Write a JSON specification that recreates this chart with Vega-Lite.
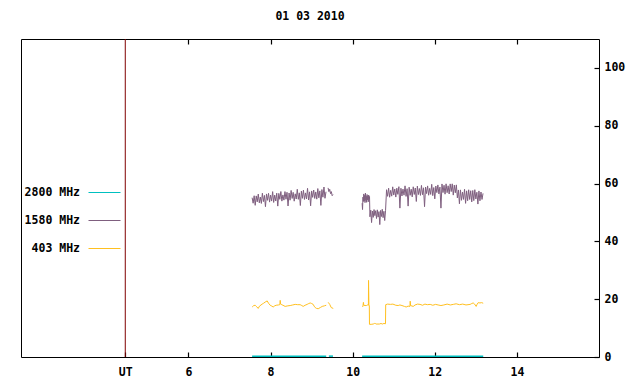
{
  "$schema": "https://vega.github.io/schema/vega-lite/v6.json",
  "autosize": "none",
  "padding": {"left": 21, "top": 39, "right": 41, "bottom": 27},
  "width": 578,
  "height": 318,
  "background": "white",
  "title": {"text": "01 03 2010", "font": "DejaVu Sans Mono", "fontSize": 11.5, "fontWeight": "bold", "color": "black", "offset": 16, "anchor": "middle", "frame": "group"},
  "config": {
    "view": {"stroke": "black", "strokeWidth": 1},
    "axis": {"domain": false, "grid": false, "labelColor": "black", "labelFont": "DejaVu Sans Mono", "labelFontSize": 11.5, "labelFontWeight": "bold", "title": null},
    "legend": {"orient": "none", "legendX": 67, "legendY": 137, "symbolType": "stroke", "symbolSize": 1024, "symbolStrokeWidth": 1, "labelAlign": "right", "labelOffset": -41, "labelFont": "DejaVu Sans Mono", "labelFontSize": 11.5, "labelFontWeight": "bold", "labelColor": "black", "labelLimit": 0, "rowPadding": 6, "padding": 0, "title": null}
  },
  "datasets": {
    "marker": [{"name": "UT"}],
    "s2800": [
      {"t": 7.55, "v": 0.3, "g": 1}, {"t": 9.355, "v": 0.3, "g": 1},
      {"t": 9.42, "v": 0.3, "g": 2}, {"t": 9.52, "v": 0.3, "g": 2},
      {"t": 10.23, "v": 0.3, "g": 3}, {"t": 13.18, "v": 0.3, "g": 3}
    ],
    "s1580": [
      {"t":7.55,"v":55.1,"g":1},{"t":7.575,"v":53.2,"g":1},{"t":7.6,"v":55.78,"g":1},{"t":7.625,"v":52.46,"g":1},{"t":7.65,"v":55.72,"g":1},
      {"t":7.675,"v":53.66,"g":1},{"t":7.7,"v":56.36,"g":1},{"t":7.725,"v":53.32,"g":1},{"t":7.75,"v":55.32,"g":1},{"t":7.775,"v":53.12,"g":1},
      {"t":7.8,"v":56.66,"g":1},{"t":7.825,"v":53.76,"g":1},{"t":7.85,"v":55.9,"g":1},{"t":7.875,"v":52.0,"g":1},{"t":7.9,"v":56.4,"g":1},
      {"t":7.925,"v":54.2,"g":1},{"t":7.95,"v":56.62,"g":1},{"t":7.975,"v":53.58,"g":1},{"t":8.0,"v":56.0,"g":1},{"t":8.025,"v":53.94,"g":1},
      {"t":8.05,"v":57.2,"g":1},{"t":8.075,"v":53.46,"g":1},{"t":8.1,"v":56.02,"g":1},{"t":8.125,"v":53.96,"g":1},{"t":8.15,"v":56.66,"g":1},
      {"t":8.175,"v":52.2,"g":1},{"t":8.2,"v":56.6,"g":1},{"t":8.225,"v":54.54,"g":1},{"t":8.25,"v":57.24,"g":1},{"t":8.275,"v":53.92,"g":1},
      {"t":8.3,"v":56.06,"g":1},{"t":8.325,"v":54.26,"g":1},{"t":8.35,"v":57.22,"g":1},{"t":8.375,"v":54.58,"g":1},{"t":8.4,"v":56.98,"g":1},
      {"t":8.425,"v":52.24,"g":1},{"t":8.45,"v":56.74,"g":1},{"t":8.475,"v":54.24,"g":1},{"t":8.5,"v":57.62,"g":1},{"t":8.525,"v":54.84,"g":1},
      {"t":8.55,"v":56.96,"g":1},{"t":8.575,"v":53.9,"g":1},{"t":8.6,"v":56.44,"g":1},{"t":8.625,"v":54.64,"g":1},{"t":8.65,"v":58.02,"g":1},
      {"t":8.675,"v":54.54,"g":1},{"t":8.7,"v":56.78,"g":1},{"t":8.725,"v":52.4,"g":1},{"t":8.75,"v":57.38,"g":1},{"t":8.775,"v":54.88,"g":1},
      {"t":8.8,"v":57.7,"g":1},{"t":8.825,"v":54.5,"g":1},{"t":8.85,"v":56.76,"g":1},{"t":8.875,"v":54.68,"g":1},{"t":8.9,"v":58.34,"g":1},
      {"t":8.925,"v":54.3,"g":1},{"t":8.95,"v":57.12,"g":1},{"t":8.975,"v":52.3,"g":1},{"t":9.0,"v":57.44,"g":1},{"t":9.025,"v":55.22,"g":1},
      {"t":9.05,"v":57.76,"g":1},{"t":9.075,"v":54.84,"g":1},{"t":9.1,"v":57.1,"g":1},{"t":9.125,"v":54.6,"g":1},{"t":9.15,"v":58.26,"g":1},
      {"t":9.175,"v":55.06,"g":1},{"t":9.2,"v":57.46,"g":1},{"t":9.225,"v":52.44,"g":1},{"t":9.25,"v":57.92,"g":1},{"t":9.275,"v":55.28,"g":1},
      {"t":9.3,"v":58.8,"g":1},{"t":9.325,"v":54.9,"g":1},{"t":9.35,"v":57.16,"g":1},
      {"t":9.4,"v":58.5,"g":2},{"t":9.42,"v":57.2,"g":2},{"t":9.44,"v":58.0,"g":2},{"t":9.46,"v":56.5,"g":2},{"t":9.48,"v":57.2,"g":2},{"t":9.5,"v":55.8,"g":2},{"t":9.52,"v":56.2,"g":2},
      {"t":10.23,"v":53.2,"g":3},{"t":10.24,"v":51.0,"g":3},{"t":10.25,"v":55.3,"g":3},{"t":10.26,"v":53.8,"g":3},{"t":10.27,"v":56.4,"g":3},
      {"t":10.28,"v":54.0,"g":3},{"t":10.29,"v":55.9,"g":3},{"t":10.3,"v":53.4,"g":3},{"t":10.31,"v":56.7,"g":3},{"t":10.32,"v":54.2,"g":3},
      {"t":10.33,"v":55.6,"g":3},{"t":10.34,"v":53.5,"g":3},{"t":10.35,"v":56.2,"g":3},{"t":10.36,"v":54.4,"g":3},{"t":10.37,"v":55.8,"g":3},
      {"t":10.38,"v":53.7,"g":3},{"t":10.39,"v":56.0,"g":3},{"t":10.4,"v":54.6,"g":3},{"t":10.41,"v":55.5,"g":3},
      {"t":10.42,"v":48.5,"g":3},{"t":10.44,"v":50.8,"g":3},{"t":10.46,"v":46.5,"g":3},{"t":10.48,"v":50.5,"g":3},{"t":10.5,"v":48.3,"g":3},
      {"t":10.52,"v":51.0,"g":3},{"t":10.54,"v":48.9,"g":3},{"t":10.56,"v":50.6,"g":3},{"t":10.58,"v":47.9,"g":3},{"t":10.6,"v":50.9,"g":3},
      {"t":10.62,"v":48.4,"g":3},{"t":10.64,"v":50.3,"g":3},{"t":10.66,"v":45.8,"g":3},{"t":10.68,"v":50.7,"g":3},{"t":10.7,"v":48.6,"g":3},
      {"t":10.72,"v":51.1,"g":3},{"t":10.74,"v":48.2,"g":3},{"t":10.76,"v":50.4,"g":3},{"t":10.78,"v":47.2,"g":3},{"t":10.8,"v":50.6,"g":3},
      {"t":10.825,"v":57.86,"g":3},{"t":10.85,"v":55.58,"g":3},{"t":10.875,"v":58.38,"g":3},{"t":10.9,"v":55.26,"g":3},{"t":10.925,"v":57.64,"g":3},
      {"t":10.95,"v":55.64,"g":3},{"t":10.975,"v":58.86,"g":3},{"t":11.0,"v":56.02,"g":3},{"t":11.025,"v":58.12,"g":3},{"t":11.05,"v":55.32,"g":3},
      {"t":11.075,"v":58.4,"g":3},{"t":11.1,"v":56.26,"g":3},{"t":11.125,"v":58.92,"g":3},{"t":11.15,"v":51.5,"g":3},{"t":11.175,"v":58.36,"g":3},
      {"t":11.2,"v":55.7,"g":3},{"t":11.225,"v":58.08,"g":3},{"t":11.25,"v":55.98,"g":3},{"t":11.275,"v":59.2,"g":3},{"t":11.3,"v":55.56,"g":3},
      {"t":11.325,"v":58.22,"g":3},{"t":11.35,"v":52.2,"g":3},{"t":11.375,"v":58.74,"g":3},{"t":11.4,"v":55.94,"g":3},{"t":11.425,"v":58.04,"g":3},
      {"t":11.45,"v":55.38,"g":3},{"t":11.475,"v":58.88,"g":3},{"t":11.5,"v":56.22,"g":3},{"t":11.525,"v":58.46,"g":3},{"t":11.55,"v":53.8,"g":3},
      {"t":11.575,"v":59.12,"g":3},{"t":11.6,"v":56.18,"g":3},{"t":11.625,"v":58.28,"g":3},{"t":11.65,"v":55.9,"g":3},{"t":11.675,"v":59.36,"g":3},
      {"t":11.7,"v":56.14,"g":3},{"t":11.725,"v":58.52,"g":3},{"t":11.75,"v":52.0,"g":3},{"t":11.775,"v":58.8,"g":3},{"t":11.8,"v":56.52,"g":3},
      {"t":11.825,"v":59.18,"g":3},{"t":11.85,"v":55.96,"g":3},{"t":11.875,"v":58.34,"g":3},{"t":11.9,"v":56.24,"g":3},{"t":11.925,"v":59.74,"g":3},
      {"t":11.95,"v":55.82,"g":3},{"t":11.975,"v":58.62,"g":3},{"t":12.0,"v":54.7,"g":3},{"t":12.025,"v":59.14,"g":3},{"t":12.05,"v":56.86,"g":3},
      {"t":12.075,"v":59.52,"g":3},{"t":12.1,"v":56.4,"g":3},{"t":12.125,"v":58.78,"g":3},{"t":12.15,"v":51.5,"g":3},{"t":12.175,"v":59.86,"g":3},
      {"t":12.2,"v":56.88,"g":3},{"t":12.225,"v":59.4,"g":3},{"t":12.25,"v":56.32,"g":3},{"t":12.275,"v":59.9,"g":3},{"t":12.3,"v":56.84,"g":3},
      {"t":12.325,"v":59.22,"g":3},{"t":12.35,"v":56.38,"g":3},{"t":12.375,"v":59.88,"g":3},{"t":12.4,"v":57.22,"g":3},{"t":12.425,"v":59.9,"g":3},
      {"t":12.45,"v":56.0,"g":3},{"t":12.475,"v":59.46,"g":3},{"t":12.5,"v":56.8,"g":3},{"t":12.525,"v":59.54,"g":3},{"t":12.55,"v":55.04,"g":3},
      {"t":12.575,"v":57.78,"g":3},{"t":12.6,"v":53.0,"g":3},{"t":12.625,"v":57.8,"g":3},{"t":12.65,"v":54.2,"g":3},{"t":12.675,"v":57.04,"g":3},
      {"t":12.7,"v":54.52,"g":3},{"t":12.725,"v":58.02,"g":3},{"t":12.75,"v":53.15,"g":3},{"t":12.775,"v":57.47,"g":3},{"t":12.8,"v":54.06,"g":3},
      {"t":12.825,"v":57.84,"g":3},{"t":12.85,"v":54.48,"g":3},{"t":12.875,"v":57.51,"g":3},{"t":12.9,"v":53.65,"g":3},{"t":12.925,"v":57.6,"g":3},
      {"t":12.95,"v":54.1,"g":3},{"t":12.975,"v":57.88,"g":3},{"t":13.0,"v":54.66,"g":3},{"t":13.025,"v":56.99,"g":3},{"t":13.05,"v":52.9,"g":3},
      {"t":13.075,"v":57.45,"g":3},{"t":13.1,"v":54.04,"g":3},{"t":13.125,"v":57.07,"g":3},{"t":13.15,"v":54.5,"g":3},{"t":13.175,"v":56.6,"g":3}
    ],
    "s403": [
      {"t":7.552,"v":17.3,"g":1},{"t":7.59,"v":17.8,"g":1},{"t":7.625,"v":17.9,"g":1},{"t":7.66,"v":17.4,"g":1},{"t":7.698,"v":16.8,"g":1},
      {"t":7.73,"v":17.6,"g":1},{"t":7.795,"v":18.3,"g":1},{"t":7.83,"v":18.6,"g":1},{"t":7.868,"v":19.0,"g":1},{"t":7.917,"v":19.4,"g":1},
      {"t":7.95,"v":18.6,"g":1},{"t":7.99,"v":17.9,"g":1},{"t":8.03,"v":17.6,"g":1},{"t":8.063,"v":17.3,"g":1},{"t":8.1,"v":17.7,"g":1},
      {"t":8.136,"v":17.9,"g":1},{"t":8.19,"v":18.0,"g":1},{"t":8.225,"v":18.1,"g":1},{"t":8.234,"v":19.6,"g":1},{"t":8.245,"v":18.3,"g":1},
      {"t":8.258,"v":18.2,"g":1},{"t":8.3,"v":17.9,"g":1},{"t":8.355,"v":17.5,"g":1},{"t":8.42,"v":17.7,"g":1},{"t":8.477,"v":17.8,"g":1},
      {"t":8.54,"v":18.0,"g":1},{"t":8.599,"v":18.2,"g":1},{"t":8.66,"v":18.1,"g":1},{"t":8.72,"v":18.1,"g":1},{"t":8.76,"v":17.8,"g":1},
      {"t":8.794,"v":17.5,"g":1},{"t":8.84,"v":17.9,"g":1},{"t":8.89,"v":18.2,"g":1},{"t":8.93,"v":18.5,"g":1},{"t":8.965,"v":18.7,"g":1},
      {"t":9.0,"v":18.5,"g":1},{"t":9.038,"v":18.2,"g":1},{"t":9.06,"v":17.6,"g":1},{"t":9.087,"v":17.1,"g":1},{"t":9.12,"v":16.8,"g":1},
      {"t":9.16,"v":16.7,"g":1},{"t":9.21,"v":17.1,"g":1},{"t":9.257,"v":17.5,"g":1},{"t":9.31,"v":17.7,"g":1},{"t":9.355,"v":17.9,"g":1},
      {"t":9.404,"v":18.9,"g":2},{"t":9.44,"v":18.2,"g":2},{"t":9.477,"v":17.1,"g":2},{"t":9.526,"v":16.8,"g":2},
      {"t":10.237,"v":17.3,"g":3},{"t":10.25,"v":17.6,"g":3},{"t":10.261,"v":18.9,"g":3},{"t":10.27,"v":17.9,"g":3},{"t":10.3,"v":17.8,"g":3},
      {"t":10.334,"v":17.8,"g":3},{"t":10.36,"v":18.0,"g":3},{"t":10.383,"v":17.9,"g":3},{"t":10.386,"v":26.5,"g":3},{"t":10.395,"v":18.0,"g":3},
      {"t":10.405,"v":17.8,"g":3},{"t":10.409,"v":11.3,"g":3},{"t":10.45,"v":11.3,"g":3},{"t":10.5,"v":11.4,"g":3},{"t":10.53,"v":11.6,"g":3},
      {"t":10.55,"v":11.6,"g":3},{"t":10.57,"v":11.4,"g":3},{"t":10.65,"v":11.4,"g":3},{"t":10.69,"v":11.6,"g":3},{"t":10.72,"v":11.4,"g":3},
      {"t":10.76,"v":11.6,"g":3},{"t":10.799,"v":11.5,"g":3},{"t":10.804,"v":18.1,"g":3},{"t":10.85,"v":18.3,"g":3},{"t":10.92,"v":18.2,"g":3},
      {"t":10.98,"v":18.3,"g":3},{"t":11.05,"v":17.9,"g":3},{"t":11.108,"v":17.8,"g":3},{"t":11.15,"v":18.0,"g":3},{"t":11.2,"v":17.8,"g":3},
      {"t":11.26,"v":17.5,"g":3},{"t":11.303,"v":17.3,"g":3},{"t":11.35,"v":17.6,"g":3},{"t":11.395,"v":17.5,"g":3},{"t":11.401,"v":19.3,"g":3},
      {"t":11.41,"v":17.8,"g":3},{"t":11.474,"v":17.5,"g":3},{"t":11.52,"v":18.0,"g":3},{"t":11.58,"v":18.3,"g":3},{"t":11.64,"v":18.2,"g":3},
      {"t":11.7,"v":17.9,"g":3},{"t":11.76,"v":18.3,"g":3},{"t":11.82,"v":18.1,"g":3},{"t":11.888,"v":18.2,"g":3},{"t":11.95,"v":17.9,"g":3},
      {"t":12.02,"v":18.2,"g":3},{"t":12.08,"v":18.0,"g":3},{"t":12.15,"v":17.8,"g":3},{"t":12.22,"v":18.0,"g":3},{"t":12.3,"v":18.3,"g":3},
      {"t":12.38,"v":18.0,"g":3},{"t":12.45,"v":18.2,"g":3},{"t":12.52,"v":18.4,"g":3},{"t":12.6,"v":18.1,"g":3},{"t":12.68,"v":18.3,"g":3},
      {"t":12.76,"v":18.0,"g":3},{"t":12.862,"v":18.2,"g":3},{"t":12.9,"v":18.5,"g":3},{"t":12.935,"v":18.7,"g":3},{"t":12.97,"v":18.3,"g":3},
      {"t":13.008,"v":17.5,"g":3},{"t":13.03,"v":18.2,"g":3},{"t":13.057,"v":18.8,"g":3},{"t":13.1,"v":18.7,"g":3},{"t":13.14,"v":18.8,"g":3},
      {"t":13.179,"v":18.6,"g":3}
    ]
  },
  "resolve": {"axis": {"x": "independent", "y": "independent"}},
  "layer": [
    {
      "data": {"name": "marker"},
      "mark": {"type": "rule", "color": "#800000", "strokeWidth": 1},
      "encoding": {
        "x": {"datum": 4.46, "type": "quantitative", "scale": {"domain": [1.92, 16], "nice": false, "zero": false},
              "axis": {"orient": "top", "values": [6, 8, 10, 12, 14], "labels": false, "ticks": true, "tickSize": -5, "tickColor": "black", "tickWidth": 1.2}}
      }
    },
    {
      "data": {"name": "s2800"},
      "mark": {"type": "line", "strokeWidth": 1.5},
      "encoding": {
        "x": {"field": "t", "type": "quantitative", "scale": {"domain": [1.92, 16], "nice": false, "zero": false},
              "axis": {"orient": "bottom", "values": [4.46, 6, 8, 10, 12, 14], "ticks": true, "tickSize": -5, "tickColor": "black", "tickWidth": 1.2, "labelPadding": 14, "labelExpr": "datum.value < 5 ? 'UT' : format(datum.value, 'd')"}},
        "y": {"field": "v", "type": "quantitative", "scale": {"domain": [0, 110], "nice": false, "zero": false}, "axis": null},
        "detail": {"field": "g"},
        "color": {"datum": "2800 MHz", "type": "nominal", "scale": {"domain": ["2800 MHz", "1580 MHz", "403 MHz"], "range": ["#00c0c0", "#7f5f7f", "#ffc020"]}}
      }
    },
    {
      "data": {"name": "s1580"},
      "mark": {"type": "line", "strokeWidth": 1},
      "encoding": {
        "x": {"field": "t", "type": "quantitative", "axis": null},
        "y": {"field": "v", "type": "quantitative", "scale": {"domain": [0, 110], "nice": false, "zero": false},
              "axis": {"orient": "right", "values": [0, 20, 40, 60, 80, 100], "ticks": true, "tickSize": -5, "tickColor": "black", "tickWidth": 1.2, "labelPadding": 10}},
        "detail": {"field": "g"},
        "color": {"datum": "1580 MHz", "type": "nominal", "scale": {"domain": ["2800 MHz", "1580 MHz", "403 MHz"], "range": ["#00c0c0", "#7f5f7f", "#ffc020"]}}
      }
    },
    {
      "data": {"name": "s403"},
      "mark": {"type": "line", "strokeWidth": 1},
      "encoding": {
        "x": {"field": "t", "type": "quantitative", "axis": null},
        "y": {"field": "v", "type": "quantitative", "axis": null},
        "detail": {"field": "g"},
        "color": {"datum": "403 MHz", "type": "nominal", "scale": {"domain": ["2800 MHz", "1580 MHz", "403 MHz"], "range": ["#00c0c0", "#7f5f7f", "#ffc020"]}}
      }
    }
  ]
}
